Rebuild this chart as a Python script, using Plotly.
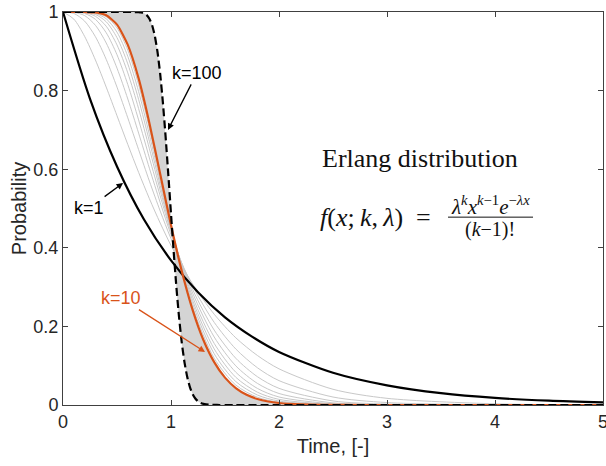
import plotly.graph_objects as go

# ---------------- data ----------------
# Survival curves (probability) of Erlang distributions with mean 1
x_k1 = [0, 0.25, 0.5, 0.75, 1.0, 1.25, 1.5, 1.75, 2.0, 2.5, 3.0, 3.5, 4.0, 4.5, 5.0]
p_k1 = [1.0, 0.779, 0.607, 0.472, 0.368, 0.287, 0.223, 0.174, 0.135, 0.082, 0.050, 0.030, 0.018, 0.011, 0.0067]

x_gray = [0, 0.1, 0.2, 0.3, 0.4, 0.5, 0.6, 0.7, 0.8, 0.9, 1.0, 1.2, 1.4, 1.6, 1.8, 2.0, 2.5, 3.0, 4.0, 5.0]
p_k2 = [1, 0.982, 0.938, 0.878, 0.809, 0.736, 0.663, 0.592, 0.525, 0.463, 0.406, 0.308, 0.231, 0.171, 0.126, 0.092, 0.040, 0.017, 0.003, 0.0005]
p_k3 = [1, 0.9964, 0.9769, 0.9372, 0.8795, 0.8088, 0.7306, 0.6498, 0.5697, 0.4936, 0.4232, 0.3027, 0.2103, 0.1425, 0.0948, 0.0620, 0.0203, 0.0062, 0.0005, 0.0]
p_k4 = [1, 0.9992, 0.9909, 0.9662, 0.9212, 0.8571, 0.7787, 0.6919, 0.6025, 0.5152, 0.4335, 0.2942, 0.1906, 0.1189, 0.0720, 0.0424, 0.0103, 0.0023, 0.0001, 0.0]
p_k5 = [1, 0.9998, 0.9963, 0.9814, 0.9473, 0.8912, 0.8153, 0.7254, 0.6288, 0.5321, 0.4405, 0.2851, 0.1730, 0.0996, 0.0550, 0.0293, 0.0054, 0.0009, 0.0, 0.0]
p_k6 = [1, 1.0, 0.9985, 0.9891, 0.9639, 0.9162, 0.8450, 0.7542, 0.6521, 0.5467, 0.4457, 0.2754, 0.1567, 0.0834, 0.0422, 0.0204, 0.0029, 0.0004, 0.0, 0.0]
p_k7 = [1, 1.0, 0.9992, 0.9938, 0.9752, 0.9346, 0.8680, 0.7775, 0.6711, 0.5587, 0.4497, 0.2664, 0.1427, 0.0705, 0.0326, 0.0143, 0.0015, 0.0001, 0.0, 0.0]
p_k8 = [1, 1.0, 0.9997, 0.9964, 0.9828, 0.9488, 0.8871, 0.7977, 0.6881, 0.5694, 0.4530, 0.2578, 0.1303, 0.0597, 0.0254, 0.0101, 0.0008, 0.0, 0.0, 0.0]
p_k9 = [1, 1.0, 0.9999, 0.9979, 0.9880, 0.9596, 0.9029, 0.8154, 0.7034, 0.5790, 0.4557, 0.2497, 0.1191, 0.0507, 0.0197, 0.0071, 0.0004, 0.0, 0.0, 0.0]
gray_series = [p_k2, p_k3, p_k4, p_k5, p_k6, p_k7, p_k8, p_k9]

x_k10 = [0, 0.1, 0.2, 0.3, 0.4, 0.5, 0.6, 0.7, 0.8, 0.9, 1.0, 1.1, 1.2, 1.3, 1.4, 1.5, 1.6, 1.7, 1.8, 1.9, 2.0, 2.2, 2.4, 2.6, 3.0, 4.0, 5.0]
p_k10 = [1.0, 1.0, 0.99994, 0.9988, 0.9916, 0.9680, 0.9162, 0.8310, 0.7172, 0.5878, 0.4580, 0.3403, 0.2420, 0.1654,
         0.1091, 0.0697, 0.0432, 0.0261, 0.0154, 0.0089, 0.0051, 0.0016, 0.0005, 0.0001, 0.0, 0.0, 0.0]

x_k100 = [0, 0.5, 0.6, 0.65, 0.7, 0.725, 0.75, 0.775, 0.8, 0.825, 0.85, 0.875, 0.9, 0.925, 0.95, 0.975, 1.0,
          1.025, 1.05, 1.075, 1.1, 1.125, 1.15, 1.175, 1.2, 1.225, 1.25, 1.275, 1.3, 1.325, 1.35, 1.375,
          1.4, 1.45, 1.5, 1.6, 2.0, 3.0, 4.0, 5.0]
p_k100 = [1.0, 1.0, 1.0, 0.99997, 0.99957, 0.99872, 0.99664, 0.99202, 0.98287, 0.96637, 0.93926, 0.89842,
          0.84183, 0.76919, 0.68269, 0.58656, 0.48670, 0.38931, 0.29973, 0.22205, 0.15824, 0.10851, 0.07160,
          0.04549, 0.02787, 0.01646, 0.00939, 0.00518, 0.00276, 0.00142, 0.00071, 0.00035, 0.00016, 0.00003,
          0.0, 0.0, 0.0, 0.0, 0.0, 0.0]

x_ticks = [0, 1, 2, 3, 4, 5]
y_ticks = [0, 0.2, 0.4, 0.6, 0.8, 1.0]
y_tick_labels = ["0", "0.2", "0.4", "0.6", "0.8", "1"]

# ---------------- figure ----------------
ORANGE = "#D95319"
GRAY = "rgb(200,200,200)"
FILL = "rgb(212,212,212)"
SANS = "Liberation Sans, Arial, Helvetica, sans-serif"
SERIF = "Liberation Serif, Times New Roman, serif"
INK = "#111111"

fig = go.Figure()

# shaded band between k=10 and k=100
fig.add_trace(go.Scatter(
    x=x_k100 + x_k10[::-1], y=p_k100 + p_k10[::-1],
    mode="lines", fill="toself", fillcolor=FILL,
    line=dict(width=0, shape="spline", smoothing=0.6), hoverinfo="skip"))

for p in gray_series:
    fig.add_trace(go.Scatter(x=x_gray, y=p, mode="lines",
                             line=dict(color=GRAY, width=1, shape="spline", smoothing=0.8)))

fig.add_trace(go.Scatter(x=x_k1, y=p_k1, mode="lines",
                         line=dict(color="black", width=2.2, shape="spline", smoothing=0.8)))
fig.add_trace(go.Scatter(x=x_k10, y=p_k10, mode="lines",
                         line=dict(color=ORANGE, width=2.2, shape="spline", smoothing=0.6)))
fig.add_trace(go.Scatter(x=x_k100, y=p_k100, mode="lines",
                         line=dict(color="black", width=2.2, dash="8px,4px", shape="spline", smoothing=0.6)))

ann_font = dict(family=SANS, size=18, color="black")
annotations = [
    dict(x=0.972, y=0.700, ax=1.241, ay=0.845, xref="x", yref="y", axref="x", ayref="y",
         text="k=100", showarrow=True, arrowhead=2, arrowsize=1, arrowwidth=1.3,
         arrowcolor="black", font=ann_font),
    dict(x=0.556, y=0.565, ax=0.241, ay=0.501, xref="x", yref="y", axref="x", ayref="y",
         text="k=1", showarrow=True, arrowhead=2, arrowsize=1, arrowwidth=1.3,
         arrowcolor="black", font=ann_font),
    dict(x=1.315, y=0.135, ax=0.537, ay=0.272, xref="x", yref="y", axref="x", ayref="y",
         text="k=10", showarrow=True, arrowhead=2, arrowsize=1, arrowwidth=1.3,
         arrowcolor=ORANGE, font=dict(family=SANS, size=18, color=ORANGE)),
    dict(x=2.380, y=0.628, xref="x", yref="y", xanchor="left", yanchor="middle",
         text="Erlang distribution", showarrow=False,
         font=dict(family=SERIF, size=26, color=INK)),
    dict(x=2.361, y=0.478, xref="x", yref="y", xanchor="left", yanchor="middle",
         text="<i>f</i>(<i>x</i>;\u2009<i>k</i>,\u2009<i>λ</i>)\u2002=", showarrow=False,
         font=dict(family=SERIF, size=26, color=INK)),
    dict(x=3.958, y=0.508, xref="x", yref="y", xanchor="center", yanchor="middle",
         text="<i>λ</i><sup><i>k</i></sup><i>x</i><sup><i>k</i>−1</sup><i>e</i><sup>−<i>λx</i></sup>",
         showarrow=False, font=dict(family=SERIF, size=21, color=INK)),
    dict(x=3.958, y=0.447, xref="x", yref="y", xanchor="center", yanchor="middle",
         text="(<i>k</i>−1)!", showarrow=False,
         font=dict(family=SERIF, size=20, color=INK)),
]

fig.add_shape(type="line", x0=3.565, x1=4.352, y0=0.478, y1=0.478, xref="x", yref="y",
              line=dict(color=INK, width=1))

fig.update_layout(
    width=606, height=466,
    margin=dict(l=63, r=3, t=12, b=61),
    paper_bgcolor="white", plot_bgcolor="white",
    showlegend=False,
    annotations=annotations,
    font=dict(family=SANS, color="#262626"),
    xaxis=dict(range=[0, 5], tickvals=x_ticks, ticks="inside", ticklen=5, tickcolor="#404040",
               showline=True, linecolor="#404040", linewidth=1, mirror="ticks",
               showgrid=False, zeroline=False, automargin=False, ticklabeloverflow="allow",
               tickfont=dict(size=18, color="#262626"),
               title=dict(text="Time, [-]", font=dict(size=20, color="#262626"), standoff=8)),
    yaxis=dict(range=[0, 1], tickvals=y_ticks, ticktext=y_tick_labels, ticks="inside", ticklen=5,
               tickcolor="#404040", showline=True, linecolor="#404040", linewidth=1, mirror="ticks",
               showgrid=False, zeroline=False, automargin=False, ticklabeloverflow="allow",
               tickfont=dict(size=18, color="#262626"),
               title=dict(text="Probability", font=dict(size=20, color="#262626"), standoff=1)),
)

fig.write_html("out.html", config={"displayModeBar": False},
               post_script="document.body.style.margin='0';")
